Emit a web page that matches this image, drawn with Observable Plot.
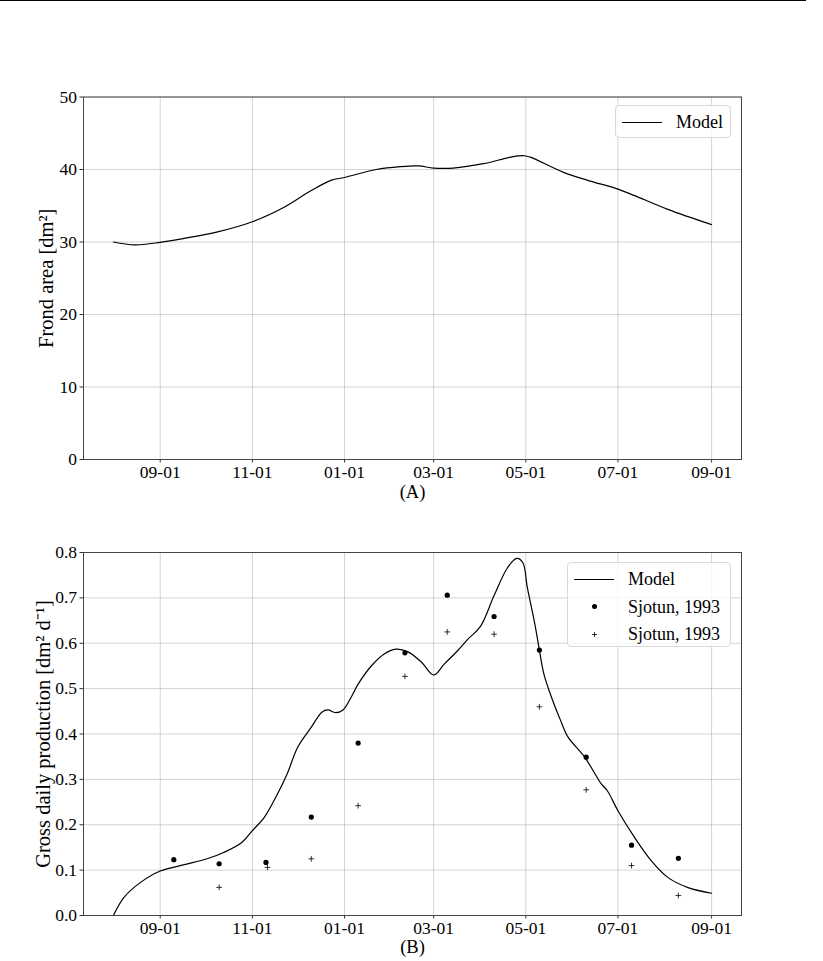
<!DOCTYPE html>
<html>
<head>
<meta charset="utf-8">
<script src="https://cdn.jsdelivr.net/npm/d3@7"></script>
<script src="https://cdn.jsdelivr.net/npm/@observablehq/plot@0.6"></script>
<style>
  html, body { margin: 0; padding: 0; background: #fff; }
  #wrap { position: relative; width: 823px; height: 961px; font-family: "Liberation Serif", serif; color: #000; }
  #topline { position: absolute; left: 0; top: 0; width: 806px; height: 1px; background: #000; z-index: 3; }
  .panel { position: absolute; left: 0; }
  .legend { position: absolute; box-sizing: border-box; border: 1px solid #d9d9d9; border-radius: 4px; background: rgba(255,255,255,0.8); font-size: 18px; }
  .row { position: absolute; left: 0; height: 20px; width: 100%; }
  .sym { position: absolute; }
  .lab { position: absolute; top: 50%; transform: translateY(-50%); white-space: nowrap; line-height: 1; }
</style>
</head>
<body>
<div id="wrap">
  <div id="topline"></div>
  <div id="pa" class="panel" style="top:0px"></div>
  <div id="pb" class="panel" style="top:505px"></div>
</div>
<script>
// ---------- data ----------
const xTickDates = ["2021-09-01","2021-11-01","2022-01-01","2022-03-01","2022-05-01","2022-07-01","2022-09-01"];

const frondDates = ["2021-08-01","2021-08-15","2021-09-01","2021-09-17","2021-10-09","2021-11-01","2021-11-22","2021-12-10","2021-12-23","2022-01-01","2022-01-22","2022-02-07","2022-02-19","2022-03-01","2022-03-14","2022-04-03","2022-04-21","2022-04-30","2022-05-04","2022-05-26","2022-06-11","2022-07-01","2022-07-12","2022-08-03","2022-09-01"];
const frondArea = [30.0,29.6,29.95,30.5,31.4,32.8,34.8,37.1,38.5,38.9,40.0,40.4,40.5,40.2,40.2,40.8,41.7,41.9,41.7,39.6,38.5,37.3,36.4,34.5,32.4];

const prodDates = ["2021-08-01","2021-08-08","2021-08-19","2021-09-01","2021-09-17","2021-10-02","2021-10-13","2021-10-25","2021-11-01","2021-11-09","2021-11-17","2021-11-24","2021-12-01","2021-12-10","2021-12-17","2021-12-21","2021-12-26","2021-12-31","2022-01-06","2022-01-10","2022-01-19","2022-01-27","2022-02-04","2022-02-12","2022-02-21","2022-03-01","2022-03-08","2022-03-17","2022-03-24","2022-04-01","2022-04-10","2022-04-19","2022-04-25","2022-04-29","2022-05-02","2022-05-07","2022-05-10","2022-05-13","2022-05-18","2022-05-24","2022-05-29","2022-06-09","2022-06-20","2022-06-24","2022-07-01","2022-07-12","2022-07-23","2022-08-03","2022-08-16","2022-09-01"];
const prodModel = [0.0,0.040,0.073,0.098,0.112,0.125,0.139,0.161,0.187,0.217,0.264,0.312,0.371,0.415,0.448,0.453,0.447,0.453,0.485,0.510,0.551,0.576,0.587,0.581,0.558,0.530,0.554,0.584,0.610,0.637,0.705,0.767,0.787,0.778,0.723,0.642,0.585,0.532,0.481,0.430,0.393,0.349,0.290,0.275,0.231,0.172,0.121,0.084,0.062,0.049];

const obsDotDates = ["2021-09-10","2021-10-10","2021-11-10","2021-12-10","2022-01-10","2022-02-10","2022-03-10","2022-04-10","2022-05-10","2022-06-10","2022-07-10","2022-08-10"];
const obsDot = [0.123,0.114,0.117,0.217,0.380,0.579,0.706,0.659,0.585,0.349,0.155,0.126];

const obsPlusDates = ["2021-10-10","2021-11-11","2021-12-10","2022-01-10","2022-02-10","2022-03-10","2022-04-10","2022-05-10","2022-06-10","2022-07-10","2022-08-10"];
const obsPlus = [0.062,0.106,0.125,0.242,0.527,0.625,0.620,0.460,0.277,0.110,0.044];

const labelA = "Frond area [dm²]";
const labelB = "Gross daily production [dm² d⁻¹]";
const legendA = ["Model"];
const legendB = ["Model", "Sjotun, 1993", "Sjotun, 1993"];

// ---------- build ----------
const parse = d3.utcParse("%Y-%m-%d");
const xTicks = xTickDates.map(parse);
const frond = frondDates.map((d, i) => ({date: parse(d), v: frondArea[i]}));
const prod = prodDates.map((d, i) => ({date: parse(d), v: prodModel[i]}));
const dots = obsDotDates.map((d, i) => ({date: parse(d), v: obsDot[i]}));
const pluses = obsPlusDates.map((d, i) => ({date: parse(d), v: obsPlus[i]}));

const ext = d3.extent(frond, d => d.date);
const pad = (ext[1] - ext[0]) * 0.05;
const xDomain = [new Date(+ext[0] - pad), new Date(+ext[1] + pad)];

const font = "Liberation Serif";
const common = (height, mt, mb) => ({
  width: 823, height, marginTop: mt, marginBottom: mb, marginLeft: 83, marginRight: 82,
  style: {fontFamily: font, fontSize: "17px", background: "transparent", color: "#000", overflow: "visible"},
  x: {type: "utc", domain: xDomain},
});
const gridStyle = {stroke: "#b0b0b0", strokeOpacity: 0.55, strokeWidth: 1};
const axes = (yTicks, yFmt) => [
  Plot.gridX(xTicks, gridStyle),
  Plot.gridY(yTicks, gridStyle),
  Plot.axisX(xTicks, {tickFormat: d3.utcFormat("%m-%d"), tickSize: 3.5, tickPadding: 3, label: null, fontSize: 17.5, stroke: "#333"}),
  Plot.axisY(yTicks, {tickFormat: yFmt, tickSize: 3.5, tickPadding: 3, label: null, fontSize: 17.5, stroke: "#333"}),
];

const plotA = Plot.plot({
  ...common(505, 96.5, 46),
  y: {domain: [0, 50]},
  marks: [
    ...axes([0,10,20,30,40,50], d3.format("d")),
    Plot.line(frond, {x: "date", y: "v", stroke: "#000", strokeWidth: 1.2, curve: "catmull-rom"}),
    Plot.frame({stroke: "#444", strokeWidth: 1}),
    Plot.text(["(A)"], {frameAnchor: "bottom", dy: 33, fontSize: 18.5, lineAnchor: "middle", textAnchor: "middle"}),
    Plot.text([labelA], {frameAnchor: "left", dx: -37, rotate: -90, fontSize: 20.5, lineAnchor: "middle", textAnchor: "middle"}),
  ]
});
document.getElementById("pa").appendChild(plotA);

const plotB = Plot.plot({
  ...common(456, 47, 46),
  y: {domain: [0, 0.8]},
  marks: [
    ...axes([0,0.1,0.2,0.3,0.4,0.5,0.6,0.7,0.8], d3.format(".1f")),
    Plot.line(prod, {x: "date", y: "v", stroke: "#000", strokeWidth: 1.2, curve: "catmull-rom"}),
    Plot.dot(dots, {x: "date", y: "v", r: 2.6, fill: "#000", stroke: "none"}),
    Plot.dot(pluses, {x: "date", y: "v", symbol: "plus", r: 2, stroke: "#000", strokeWidth: 0.8}),
    Plot.frame({stroke: "#444", strokeWidth: 1}),
    Plot.text(["(B)"], {frameAnchor: "bottom", dy: 32, fontSize: 18.5, lineAnchor: "middle", textAnchor: "middle"}),
    Plot.text([labelB], {frameAnchor: "left", dx: -40, rotate: -90, fontSize: 20.5, lineAnchor: "middle", textAnchor: "middle"}),
  ]
});
document.getElementById("pb").appendChild(plotB);

// ---------- legends (HTML) ----------
function legend(parent, box, items, kinds) {
  const L = document.createElement("div");
  L.className = "legend";
  Object.assign(L.style, {left: box[0] + "px", top: box[1] + "px", width: box[2] + "px", height: box[3] + "px"});
  items.forEach((txt, i) => {
    const row = document.createElement("div");
    row.className = "row";
    row.style.top = (6 + i * 27.5) + "px";
    const s = document.createElement("div");
    s.className = "sym";
    if (kinds[i] === "line") Object.assign(s.style, {left: "6px", top: "9.5px", width: "40px", height: "0", borderTop: "1.3px solid #000"});
    if (kinds[i] === "dot") Object.assign(s.style, {left: "23.5px", top: "7.5px", width: "5px", height: "5px", borderRadius: "50%", background: "#000"});
    if (kinds[i] === "plus") {
      s.innerHTML = '<svg width="7" height="7" style="display:block"><path d="M3.5 1V6M1 3.5H6" stroke="#000" stroke-width="0.8"/></svg>';
      Object.assign(s.style, {left: "22.5px", top: "6.5px"});
    }
    row.appendChild(s);
    const t = document.createElement("div");
    t.className = "lab";
    t.style.left = "60px";
    t.textContent = txt;
    row.appendChild(t);
    L.appendChild(row);
  });
  parent.appendChild(L);
}
const wrap = document.getElementById("wrap");
legend(wrap, [615, 105, 116, 33], legendA, ["line"]);
legend(wrap, [567, 562, 164, 85], legendB, ["line", "dot", "plus"]);
</script>
</body>
</html>
